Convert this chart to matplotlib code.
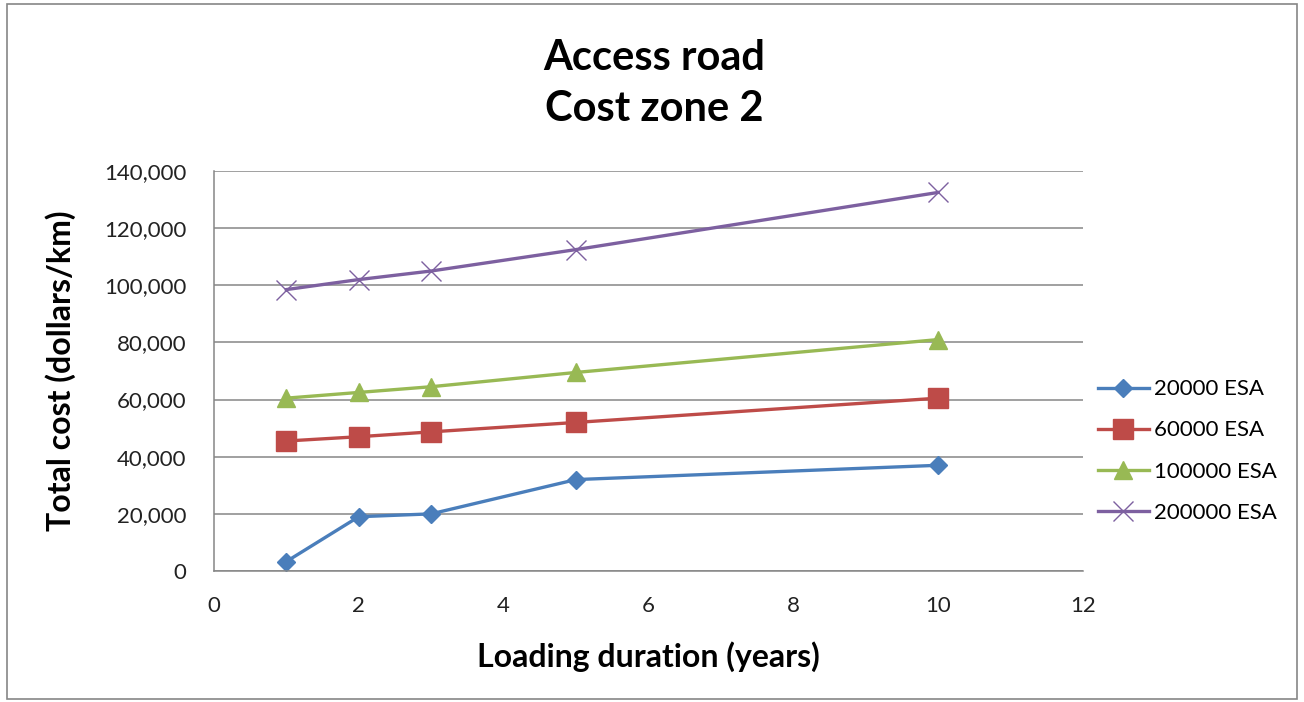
import matplotlib.pyplot as plt
from matplotlib.patches import Rectangle
from matplotlib.ticker import FuncFormatter

plt.rcParams['font.family'] = ['Lato', 'DejaVu Sans']

# data
years = [1, 2, 3, 5, 10]
esa_20000 = [3300, 19000, 20000, 32000, 37000]
esa_60000 = [45500, 47000, 48700, 52000, 60500]
esa_100000 = [60500, 62500, 64500, 69500, 81000]
esa_200000 = [98500, 102000, 105000, 112500, 132500]
series_labels = ["20000 ESA", "60000 ESA", "100000 ESA", "200000 ESA"]

fig = plt.figure(figsize=(13.04, 7.02), dpi=100)
ax = fig.add_axes([0.164, 0.1866, 0.6665, 0.5698])

ax.plot(years, esa_20000, color='#4A7EBB', lw=2.4, marker='D', ms=9, label=series_labels[0])
ax.plot(years, esa_60000, color='#BE4B48', lw=2.4, marker='s', ms=14, label=series_labels[1])
ax.plot(years, esa_100000, color='#98B954', lw=2.4, marker='^', ms=13, label=series_labels[2])
ax.plot(years, esa_200000, color='#7D60A0', lw=2.4, marker='x', ms=14, mew=1.0, label=series_labels[3])

ax.set_xlim(0, 12)
ax.set_ylim(0, 140000)
ax.set_xticks(range(0, 13, 2))
ax.set_yticks(range(0, 140001, 20000))
ax.yaxis.set_major_formatter(FuncFormatter(lambda v, p: f"{int(v):,}"))
ax.tick_params(length=0, labelsize=16, colors='#222222')
ax.tick_params(axis='x', pad=18)
ax.tick_params(axis='y', pad=20)
ax.grid(axis='y', color='#868686', lw=1.1)
for s in ['top', 'right']:
    ax.spines[s].set_visible(False)
for s in ['left', 'bottom']:
    ax.spines[s].set_color('#868686')
    ax.spines[s].set_linewidth(1.1)
ax.set_axisbelow(True)

ax.set_xlabel("Loading duration (years)", fontsize=23, fontweight='bold', labelpad=18)
ax.set_ylabel("Total cost (dollars/km)", fontsize=23, fontweight='bold', labelpad=20)

fig.text(0.502, 0.881, "Access road\nCost zone 2", ha='center', va='center',
         fontsize=30, fontweight='bold', linespacing=1.4)

ax.legend(loc='center left', bbox_to_anchor=(1.017, 0.30), frameon=False,
          fontsize=16, handlelength=2.3, labelspacing=0.95, borderaxespad=0,
          borderpad=0, handletextpad=0.25)

fig.patches.append(Rectangle((0.005, 0.004), 0.99, 0.99, transform=fig.transFigure,
                             fill=False, ec='#868686', lw=1.2))

fig.savefig("out.png", dpi=100)
